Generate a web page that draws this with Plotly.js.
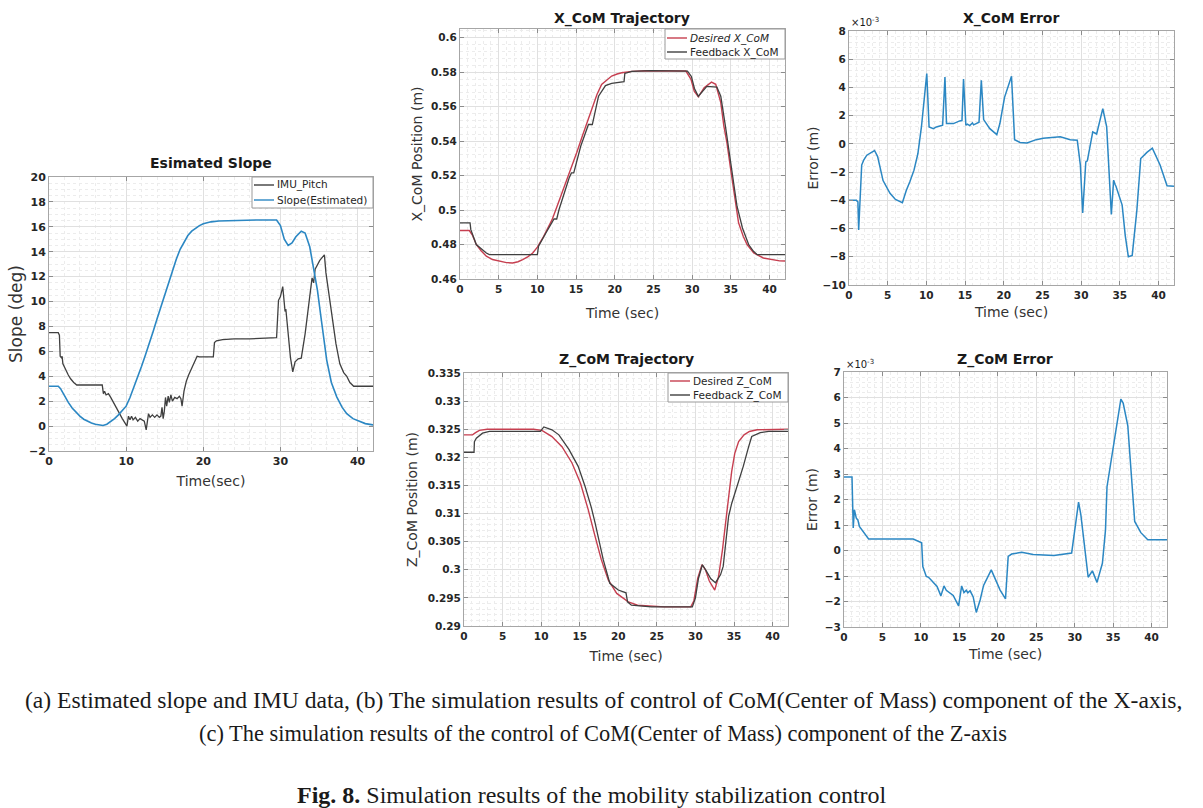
<!DOCTYPE html>
<html>
<head>
<meta charset="utf-8">
<script src="https://cdn.plot.ly/plotly-3.0.1.min.js"></script>
<style>
  body { margin: 0; background: #fff; }
  #fig { width: 1203px; height: 808px; }
</style>
</head>
<body>
<div id="fig"></div>
<script>
// values, as [time (sec), value] pairs

// (a) estimated slope
const imuPitch = [[0,7.5],[1.2,7.5],[1.35,7.3],[1.45,5.6],[1.6,5.5],[1.7,5.6],[1.8,5.0],[2.0,4.7],[2.2,4.5],[2.5,4.1],[2.8,3.8],[3.2,3.5],[3.6,3.3],[4.5,3.3],[5.5,3.3],[6.8,3.25],[6.9,3.3],[7.05,2.6],[7.2,2.8],[7.4,2.5],[7.7,2.6],[8.0,2.3],[8.5,1.7],[9.0,1.1],[9.5,0.6],[9.9,0.2],[10.1,0.0],[10.3,0.8],[10.5,0.5],[10.7,0.8],[10.9,0.5],[11.2,0.7],[11.5,0.4],[11.8,0.6],[12.1,0.5],[12.35,0.4],[12.6,-0.3],[12.75,0.3],[12.9,1.0],[13.1,0.7],[13.4,0.9],[13.7,0.7],[14.0,0.9],[14.3,0.7],[14.5,0.8],[14.65,1.5],[14.8,0.6],[14.95,1.2],[15.1,2.3],[15.25,1.6],[15.45,2.4],[15.6,1.9],[15.8,2.5],[16.0,2.0],[16.3,2.3],[16.6,2.2],[16.9,2.4],[17.1,2.2],[17.25,1.6],[17.5,2.8],[17.8,3.6],[18.1,4.1],[18.5,4.6],[18.9,5.2],[19.2,5.6],[19.5,5.55],[20.5,5.55],[21.3,5.55],[21.45,6.7],[21.7,6.85],[22.5,6.95],[24,7.0],[26,7.0],[28,7.05],[29.0,7.1],[29.5,7.1],[29.75,10.1],[30.0,10.4],[30.3,11.2],[30.45,10.2],[30.6,9.2],[30.7,9.4],[31.0,7.2],[31.3,5.5],[31.6,4.35],[31.9,5.16],[32.3,5.4],[32.7,5.45],[33.2,7.4],[33.8,10.4],[34.1,11.9],[34.3,11.5],[34.5,12.6],[35.1,13.3],[35.4,13.5],[35.7,13.75],[35.9,12.3],[36.3,10.5],[36.7,8.5],[37.2,6.6],[37.7,5.0],[38.2,4.3],[38.6,4.0],[39.0,3.5],[39.5,3.2],[42,3.2]];
const slopeEst = [[0,3.2],[1.2,3.2],[1.5,3.0],[2.0,2.4],[2.5,1.9],[3.0,1.45],[3.5,1.1],[4.0,0.8],[4.5,0.55],[5.0,0.38],[5.5,0.25],[6.0,0.15],[6.5,0.08],[7.0,0.05],[7.5,0.15],[8.0,0.35],[8.5,0.6],[9.0,0.9],[9.5,1.25],[10.0,1.6],[10.5,2.3],[11.0,3.1],[11.5,4.0],[12.0,4.8],[12.5,5.7],[13.0,6.6],[13.5,7.6],[14.0,8.6],[14.5,9.6],[15.0,10.6],[15.5,11.6],[16.0,12.6],[16.5,13.4],[17.0,14.2],[17.5,14.8],[18.0,15.3],[18.5,15.65],[19.0,15.9],[19.5,16.1],[20.0,16.25],[21.0,16.4],[22.0,16.47],[24.0,16.52],[27.0,16.55],[29.5,16.55],[30.0,16.1],[30.5,15.0],[31.0,14.5],[31.5,14.7],[32.0,15.2],[32.7,15.65],[33.2,15.5],[33.8,14.4],[34.3,12.8],[34.8,10.9],[35.2,9.0],[35.6,7.1],[36.0,5.3],[36.6,3.5],[37.3,2.35],[38.0,1.5],[38.6,1.0],[39.4,0.6],[40.3,0.35],[41.0,0.2],[42,0.1]];

// (b) X CoM (m), error in units of 1e-3 m
const xDesired = [[0,0.4881],[1.2,0.4881],[1.6,0.4855],[2.1,0.480],[2.7,0.4765],[3.4,0.4732],[4.2,0.4713],[5.1,0.4703],[6.0,0.4695],[6.8,0.4693],[7.5,0.470],[8.1,0.4712],[8.8,0.473],[9.4,0.4751],[10.0,0.4785],[10.7,0.4838],[11.3,0.489],[11.9,0.4944],[12.5,0.5016],[13.2,0.5099],[13.8,0.5175],[14.5,0.5254],[15.1,0.5335],[15.8,0.5428],[16.5,0.552],[17.1,0.5602],[17.7,0.567],[18.3,0.5728],[19.0,0.5757],[19.6,0.5777],[20.3,0.5789],[20.9,0.5796],[22.2,0.5804],[24,0.5808],[29.2,0.5806],[29.85,0.5758],[30.27,0.569],[30.8,0.5657],[31.55,0.571],[32.5,0.5742],[33.05,0.5729],[33.7,0.5623],[34.1,0.5487],[34.5,0.539],[34.98,0.5235],[35.4,0.510],[36.0,0.4926],[36.6,0.4848],[37.1,0.480],[37.96,0.4751],[39.2,0.4722],[41.3,0.4705],[42,0.4704]];
const xFeedback = [[0,0.4925],[1.3,0.4925],[1.4,0.4886],[2.1,0.480],[3.4,0.4751],[3.8,0.4741],[10.0,0.4741],[10.15,0.479],[11.1,0.4867],[12.15,0.4948],[12.5,0.4948],[12.8,0.5003],[14.1,0.5186],[14.4,0.5215],[14.7,0.5215],[15.6,0.537],[16.6,0.5496],[17.1,0.5496],[17.9,0.566],[18.8,0.5722],[19.6,0.5734],[20.8,0.5742],[21.2,0.5745],[21.3,0.5792],[22.2,0.5804],[24.7,0.5808],[29.4,0.5806],[29.9,0.5775],[30.3,0.5705],[30.8,0.566],[31.3,0.5685],[31.9,0.5717],[33.2,0.5713],[33.7,0.566],[34.3,0.5487],[34.75,0.535],[35.2,0.5216],[35.8,0.5022],[36.5,0.4896],[37.3,0.480],[37.9,0.4762],[38.4,0.4741],[42,0.4741]];
const xError = [[0,-4.0],[0.95,-4.0],[1.15,-4.1],[1.25,-6.1],[1.64,-1.5],[1.9,-1.15],[2.3,-0.8],[3.3,-0.47],[3.7,-0.9],[4.4,-2.6],[5.3,-3.5],[6.0,-3.94],[6.9,-4.17],[7.4,-3.3],[7.85,-2.7],[8.4,-1.86],[8.9,-0.7],[9.36,1.2],[10.05,4.98],[10.35,1.2],[10.9,1.08],[11.3,1.2],[12.1,1.32],[12.4,4.74],[12.6,1.44],[13.5,1.44],[14.3,1.63],[14.6,1.65],[14.8,4.6],[15.1,1.32],[15.3,1.4],[15.6,1.3],[15.95,1.49],[16.1,1.35],[16.8,1.53],[17.1,4.5],[17.4,1.72],[18.2,1.08],[19.1,0.66],[19.5,1.44],[20.1,3.3],[21.0,4.79],[21.4,0.3],[22.1,0.1],[23.0,0.07],[24.2,0.3],[25.1,0.4],[27.3,0.5],[28.6,0.3],[29.5,0.26],[29.9,-1.5],[30.2,-4.9],[30.6,-1.27],[30.8,-1.2],[31.5,0.85],[32.0,0.7],[32.8,2.5],[33.3,1.2],[33.9,-5.0],[34.2,-2.57],[34.4,-2.9],[34.5,-3.0],[35.3,-4.34],[35.7,-6.5],[36.1,-8.0],[36.6,-7.9],[37.2,-4.7],[37.7,-1.04],[38.5,-0.6],[39.2,-0.31],[40.2,-1.5],[41.1,-2.97],[42,-3.0]];

// (c) Z CoM (m), error in units of 1e-3 m
const zDesired = [[0,0.3240],[1.1,0.3240],[1.5,0.3244],[2.0,0.3248],[3.0,0.3250],[9.0,0.3250],[10.1,0.3248],[11.4,0.3237],[12.7,0.3219],[14.0,0.3190],[15.1,0.3154],[16.1,0.3107],[17.0,0.3059],[17.8,0.3018],[18.7,0.2982],[19.8,0.2958],[21.3,0.2943],[22.5,0.2937],[26.0,0.2934],[29.4,0.2934],[29.8,0.2945],[30.3,0.2985],[30.85,0.3009],[31.3,0.3000],[31.8,0.2980],[32.5,0.2964],[33.0,0.2988],[33.5,0.3035],[33.9,0.3082],[34.3,0.3132],[34.7,0.3175],[35.1,0.3207],[35.6,0.3228],[36.3,0.3240],[37.0,0.3246],[38.0,0.3249],[42,0.3250]];
const zFeedback = [[0,0.3209],[1.3,0.3209],[1.35,0.3228],[1.6,0.3234],[2.4,0.3243],[3.3,0.3246],[9.9,0.3246],[10.35,0.3254],[11.4,0.3249],[12.3,0.3240],[13.6,0.3214],[14.8,0.3184],[15.7,0.3148],[16.5,0.3111],[17.0,0.3083],[17.4,0.3058],[18.05,0.3018],[18.9,0.2976],[20.0,0.2964],[21.0,0.2959],[21.2,0.2943],[21.7,0.2937],[24.3,0.2934],[29.6,0.2934],[30.0,0.2950],[30.4,0.2985],[30.9,0.3009],[31.4,0.2998],[32.0,0.2984],[32.6,0.2977],[33.25,0.2991],[33.6,0.3006],[33.9,0.3047],[34.3,0.3095],[34.7,0.3118],[35.4,0.3148],[36.2,0.3184],[36.9,0.3219],[37.3,0.3237],[38.4,0.3244],[39.5,0.3246],[42,0.3246]];
const zError = [[0,2.88],[1.04,2.88],[1.2,0.88],[1.35,1.6],[1.6,1.27],[1.8,1.2],[2.0,0.94],[2.5,0.72],[3.2,0.45],[9.0,0.45],[9.9,0.35],[10.1,0.3],[10.25,-0.63],[10.7,-1.02],[11.0,-1.05],[12.1,-1.41],[12.6,-1.78],[13.0,-1.39],[13.3,-1.56],[14.2,-1.76],[14.9,-2.17],[15.3,-1.39],[15.6,-1.65],[15.9,-1.56],[16.1,-1.66],[16.4,-1.58],[16.8,-1.82],[17.2,-2.43],[17.7,-1.94],[18.15,-1.37],[19.15,-0.76],[20.3,-1.55],[21.0,-1.9],[21.35,-0.23],[21.8,-0.14],[23.1,-0.07],[24.6,-0.16],[27.3,-0.2],[29.6,-0.1],[30.5,1.9],[30.8,1.4],[31.75,-1.05],[32.3,-0.8],[32.9,-1.25],[33.6,-0.5],[34.0,0.8],[34.2,2.5],[34.7,3.5],[35.1,4.3],[36.0,5.94],[36.3,5.78],[36.9,4.9],[37.8,1.14],[38.6,0.7],[39.5,0.42],[42,0.42]];

// exponent label and figure captions
const expLabel = '\u00d710<sup>-3</sup>';
const captionLines = [
  '(a) Estimated slope and IMU data, (b) The simulation results of control of CoM(Center of Mass) component of the X-axis,',
  '(c) The simulation results of the control of CoM(Center of Mass) component of the Z-axis',
  '<b>Fig. 8.</b> Simulation results of the mobility stabilization control'
];

// page pixel -> paper coordinate
const W = 1203, H = 808;
function px(x) { return x / W; }
function py(y) { return 1 - y / H; }

const tx = pairs => pairs.map(p => p[0]);
const ty = pairs => pairs.map(p => p[1]);

const RED = '#c63f50', DARK = '#404040', BLUE = '#2b87c3';
const FONT = 'DejaVu Sans';

function line(pairs, name, color, ax, width) {
    return {
        x: tx(pairs), y: ty(pairs), name: name, type: 'scatter', mode: 'lines',
        xaxis: 'x' + ax, yaxis: 'y' + ax,
        line: {color: color, width: width || 1.4},
        showlegend: false, hoverinfo: 'skip'
    };
}

let traces = [
    line(imuPitch, 'IMU_Pitch', DARK, '', 1.3),
    line(slopeEst, 'Slope(Estimated)', BLUE, '', 1.6),
    line(xDesired, 'Desired X_CoM', RED, '2'),
    line(xFeedback, 'Feedback X_CoM', DARK, '2', 1.3),
    line(xError, 'X_CoM Error', BLUE, '3', 1.5),
    line(zDesired, 'Desired Z_CoM', RED, '4'),
    line(zFeedback, 'Feedback Z_CoM', DARK, '4', 1.3),
    line(zError, 'Z_CoM Error', BLUE, '5', 1.5)
];

// MATLAB-like boxed axis, bold tick labels
function axis(o) {
    return {
        domain: o.domain, range: o.range, anchor: o.anchor,
        dtick: o.dtick, tick0: o.tick0,
        showline: true, mirror: 'ticks', linecolor: '#a6a6a6', linewidth: 1,
        ticks: 'inside', ticklen: 4, tickcolor: '#8c8c8c',
        showgrid: true, gridcolor: '#e0e0e0', gridwidth: 1, zeroline: false,
        minor: {dtick: o.minor, showgrid: true, gridcolor: '#ececec', griddash: 'dot', gridwidth: 1},
        tickprefix: '<b>', ticksuffix: '</b>',
        tickfont: {family: FONT, size: o.tickSize || 10.5, color: '#262626'},
        title: {text: o.title, standoff: o.standoff,
                font: {family: FONT, size: o.titleSize || 14, color: '#333333'}},
        fixedrange: true
    };
}

let shapes = [];
let annotations = [];

// legend drawn as a box, short line samples and labels
function legend(x0, y0, x1, y1, entries, size) {
    shapes.push({type: 'rect', xref: 'paper', yref: 'paper', layer: 'above',
                 x0: px(x0), x1: px(x1), y0: py(y1), y1: py(y0),
                 fillcolor: '#ffffff', line: {color: '#9a9a9a', width: 1}});
    entries.forEach(e => {
        shapes.push({type: 'line', xref: 'paper', yref: 'paper', layer: 'above',
                     x0: px(x0 + 2), x1: px(x0 + 22), y0: py(e.y), y1: py(e.y),
                     line: {color: e.color, width: 1.4}});
        annotations.push({text: e.text, x: px(x0 + 23), y: py(e.y), xref: 'paper', yref: 'paper',
                          showarrow: false, xanchor: 'left', yanchor: 'middle',
                          font: {family: FONT, size: size, color: '#262626'}});
    });
}

function title(text, x, y) {
    annotations.push({text: '<b>' + text + '</b>', x: px(x), y: py(y), xref: 'paper', yref: 'paper',
            showarrow: false, xanchor: 'center', yanchor: 'middle',
            font: {family: FONT, size: 14, color: '#1a1a1a'}});
}

function note(text, x, y, size, family, anchor) {
    annotations.push({text: text, x: px(x), y: py(y), xref: 'paper', yref: 'paper', showarrow: false,
            xanchor: anchor || 'left', yanchor: 'middle', font: {family: family, size: size, color: '#1a1a1a'}});
}

title('Esimated Slope', 211, 163);
title('X_CoM Trajectory', 622, 18);
title('X_CoM Error', 1011, 18);
title('Z_CoM Trajectory', 626, 360);
title('Z_CoM Error', 1005, 360);

legend(252, 177, 373, 208, [
    {text: 'IMU_Pitch', color: DARK, y: 185},
    {text: 'Slope(Estimated)', color: BLUE, y: 200}], 10.5);
legend(665, 29, 785, 59, [
    {text: '<i>Desired X_CoM</i>', color: RED, y: 38},
    {text: 'Feedback X_CoM', color: DARK, y: 52}], 10.5);
legend(668, 373, 788, 402, [
    {text: 'Desired Z_CoM', color: RED, y: 381},
    {text: 'Feedback Z_CoM', color: DARK, y: 395}], 10.5);

note(expLabel, 849, 22, 10, FONT);
note(expLabel, 844, 364, 10, FONT);
note(captionLines[0], 603, 700, 23.6, 'Liberation Serif', 'center');
note(captionLines[1], 603, 733, 22.4, 'Liberation Serif', 'center');
note(captionLines[2], 592, 795, 24, 'Liberation Serif', 'center');

let layout = {
    width: W, height: H,
    margin: {l: 0, r: 0, t: 0, b: 0},
    paper_bgcolor: '#ffffff', plot_bgcolor: '#ffffff',
    xaxis:  axis({domain: [px(49), px(373)], range: [0, 42], anchor: 'y', dtick: 10, minor: 2, title: 'Time(sec)', tickSize: 11, standoff: 8}),
    yaxis:  axis({domain: [py(451), py(177)], range: [-2, 20], anchor: 'x', dtick: 2, minor: 0.5, title: 'Slope (deg)', tickSize: 11, titleSize: 17, standoff: 1}),
    xaxis2: axis({domain: [px(460), px(785)], range: [0, 42], anchor: 'y2', dtick: 5, minor: 1, title: 'Time (sec)', standoff: 14}),
    yaxis2: axis({domain: [py(279), py(29)], range: [0.46, 0.605], anchor: 'x2', dtick: 0.02, tick0: 0.46, minor: 0.004, title: 'X_CoM Position (m)', standoff: 5}),
    xaxis3: axis({domain: [px(849), px(1174)], range: [0, 42], anchor: 'y3', dtick: 5, minor: 1, title: 'Time (sec)', standoff: 7}),
    yaxis3: axis({domain: [py(285), py(31)], range: [-10, 8], anchor: 'x3', dtick: 2, minor: 0.4, title: 'Error (m)', standoff: 0}),
    xaxis4: axis({domain: [px(464), px(788)], range: [0, 42], anchor: 'y4', dtick: 5, minor: 1, title: 'Time (sec)', standoff: 10}),
    yaxis4: axis({domain: [py(626), py(373)], range: [0.29, 0.335], anchor: 'x4', dtick: 0.005, tick0: 0.29, minor: 0.001, title: 'Z_CoM Position (m)', standoff: 6}),
    xaxis5: axis({domain: [px(844), px(1167)], range: [0, 42], anchor: 'y5', dtick: 5, minor: 1, title: 'Time (sec)', standoff: 7}),
    yaxis5: axis({domain: [py(627), py(372)], range: [-3, 7], anchor: 'x5', dtick: 1, minor: 0.2, title: 'Error (m)', standoff: 3}),
    shapes: shapes,
    annotations: annotations,
    showlegend: false
};

Plotly.newPlot('fig', traces, layout, {displayModeBar: false, staticPlot: true});
</script>
</body>
</html>
